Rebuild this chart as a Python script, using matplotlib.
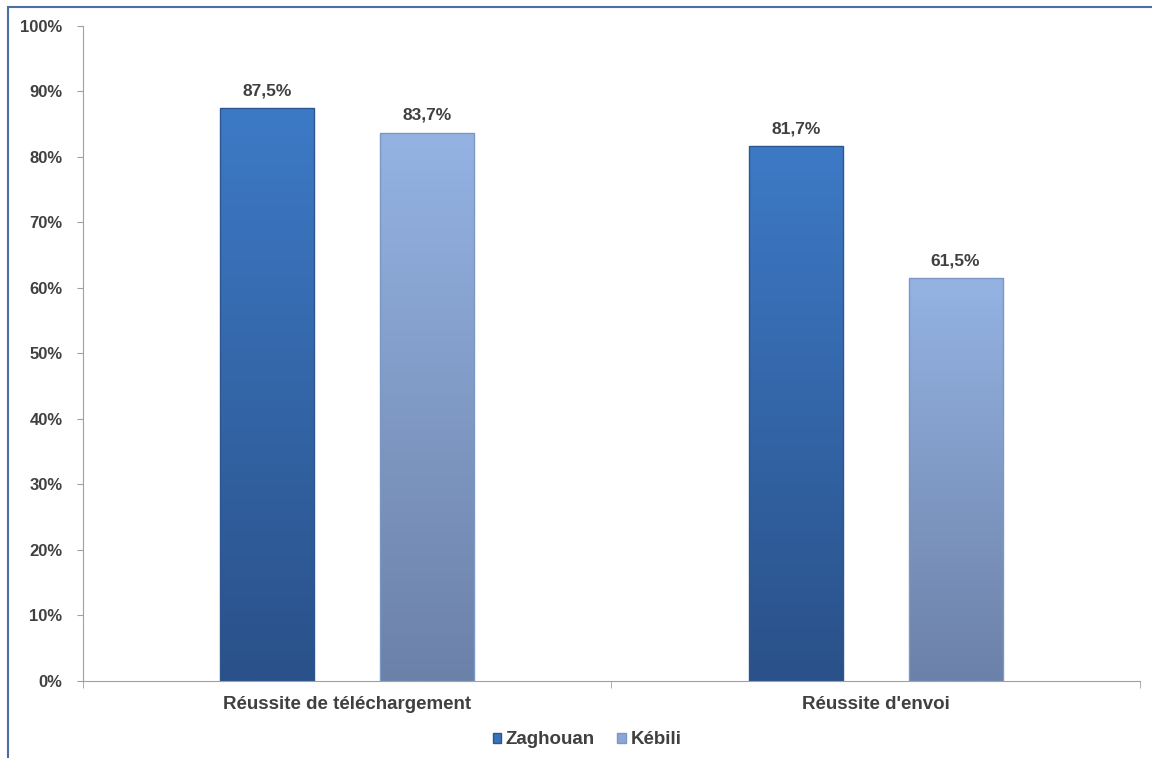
import numpy as np
import matplotlib
matplotlib.use("Agg")
import matplotlib.pyplot as plt
from matplotlib.patches import Rectangle
from matplotlib.colors import LinearSegmentedColormap

categories = ["Réussite de téléchargement", "Réussite d'envoi"]
series = ["Zaghouan", "Kébili"]
zaghouan = [87.5, 81.7]
kebili = [83.7, 61.5]
labels_z = ["87,5%", "81,7%"]
labels_k = ["83,7%", "61,5%"]

plt.rcParams["font.family"] = ["Liberation Sans", "DejaVu Sans"]
plt.rcParams["font.weight"] = "bold"

fig = plt.figure(figsize=(11.52, 7.58), dpi=100)
ax = fig.add_axes([0.072, 0.1016, 0.9176, 0.8641])

# outer frame (left and top visible)
fig.patches.append(Rectangle((8 / 1152, -0.1), 1.2, 1 - 7 / 758 + 0.1,
                             transform=fig.transFigure, fill=False,
                             edgecolor="#4a6ea8", linewidth=1.5))

width = 0.178
offset = 0.151
cmaps = [
    LinearSegmentedColormap.from_list("z", ["#2a5189", "#3d7ac6"]),
    LinearSegmentedColormap.from_list("k", ["#6c81a8", "#94b3e3"]),
]
edges = ["#2b5690", "#7b97c4"]
grad = np.linspace(0, 1, 256).reshape(-1, 1)

x = np.arange(len(categories))
for vals, labs, sign, cm, ec in [(zaghouan, labels_z, -1, cmaps[0], edges[0]),
                                 (kebili, labels_k, 1, cmaps[1], edges[1])]:
    for xi, v, lab in zip(x, vals, labs):
        x0 = xi + sign * offset - width / 2
        bars = ax.bar(xi + sign * offset, v, width, color="none", edgecolor=ec,
                      linewidth=1, zorder=3)
        im = ax.imshow(grad, cmap=cm, aspect="auto", origin="lower",
                       extent=[x0, x0 + width, 0, v], zorder=2)
        im.set_clip_path(bars[0])
        ax.text(xi + sign * offset, v + 1.5, lab, ha="center", va="bottom",
                fontsize=12.5, fontweight="bold", color="#404040")

ax.set_xlim(-0.5, 1.5)
ax.set_ylim(0, 100)
ax.set_yticks(range(0, 101, 10))
ax.set_yticklabels([f"{t}%" for t in range(0, 101, 10)])
ax.set_xticks(x)
ax.set_xticklabels(categories)
ax.set_xticks([-0.5, 0.5, 1.5], minor=True)
ax.tick_params(axis="x", which="major", length=0, pad=11)
ax.tick_params(axis="x", which="minor", length=5, color="#a0a0a0", direction="out")
ax.tick_params(axis="y", length=4.3, color="#a0a0a0", pad=10.5)
for lab in ax.get_yticklabels():
    lab.set_fontsize(12)
    lab.set_fontweight("bold")
    lab.set_color("#404040")
for lab in ax.get_xticklabels():
    lab.set_fontsize(13.5)
    lab.set_fontweight("bold")
    lab.set_color("#404040")

for s in ["top", "right"]:
    ax.spines[s].set_visible(False)
ax.spines["left"].set_color("#a0a0a0")
ax.spines["bottom"].set_color("#a0a0a0")

handles = [Rectangle((0, 0), 1, 1, facecolor="#3a72bb", edgecolor="#2b5690"),
           Rectangle((0, 0), 1, 1, facecolor="#8aa6d6", edgecolor="#7b97c4")]
leg = fig.legend(handles, series, loc="center", bbox_to_anchor=(0.5095, 0.024),
                 ncol=2, frameon=False, handlelength=0.45, handleheight=0.45,
                 handletextpad=0.25, columnspacing=1.2,
                 prop={"size": 13.5, "weight": "bold"})
for t in leg.get_texts():
    t.set_color("#404040")

fig.savefig("out.png", dpi=100)
